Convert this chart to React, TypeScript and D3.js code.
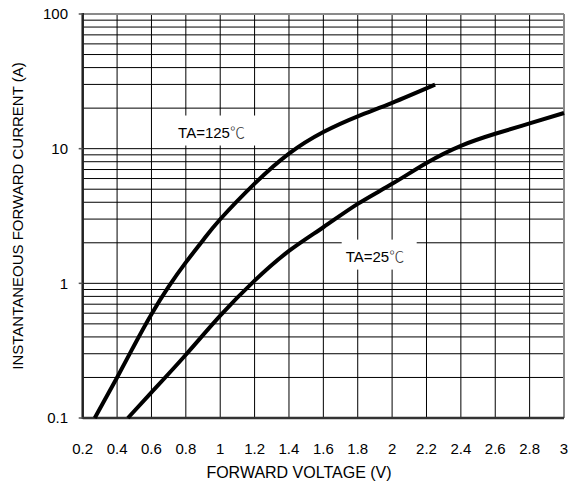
import * as d3 from "d3";

// forward characteristic
const voltage125 = [0.27, 0.4, 0.5, 0.6, 0.7, 0.8, 0.9, 1.0, 1.2, 1.4, 1.6, 1.8, 2.0, 2.25];
const current125 = [0.1, 0.2, 0.347, 0.59, 0.944, 1.43, 2.09, 2.99, 5.5, 9.2, 13.3, 17.4, 21.9, 29.9];

const voltage25 = [0.463, 0.6, 0.8, 1.0, 1.2, 1.4, 1.6, 1.8, 2.0, 2.2, 2.4, 2.6, 2.8, 3.0];
const current25 = [0.1, 0.155, 0.295, 0.575, 1.047, 1.74, 2.61, 3.89, 5.48, 7.83, 10.5, 12.9, 15.4, 18.4];

const xTicks = [0.2, 0.4, 0.6, 0.8, 1, 1.2, 1.4, 1.6, 1.8, 2, 2.2, 2.4, 2.6, 2.8, 3];
const yDecades = [0.1, 1, 10, 100];
const yTickLabels = ["0.1", "1", "10", "100"];

const labels = [
  { text: "TA=125", v: 0.755, i: 12.1 },
  { text: "TA=25", v: 1.73, i: 1.45 },
];

const W = 579;
const H = 485;
const FONT = "'Liberation Sans', Arial, sans-serif";

export default function App() {
  const x = d3.scaleLinear().domain([0.2, 3]).range([82.7, 564]);
  const y = d3.scaleLog().domain([0.1, 100]).range([418, 14]);

  const line = d3
    .line<[number, number]>()
    .x((d) => x(d[0]))
    .y((d) => y(d[1]))
    .curve(d3.curveNatural);

  const pts125 = voltage125.map((v, k) => [v, current125[k]] as [number, number]);
  const pts25 = voltage25.map((v, k) => [v, current25[k]] as [number, number]);

  const [x0, x1] = x.range();
  const [y0, y1] = y.range();

  return (
    <svg
      width={W}
      height={H}
      style={{ position: "absolute", left: 0, top: 0, background: "#fff" }}
      fontFamily={FONT}
    >
      {/* log grid */}
      <g stroke="#000" strokeWidth={1}>
        {y.ticks().map((t, k) => (
          <line key={"h" + k} x1={x0} x2={x1} y1={y(t)} y2={y(t)} />
        ))}
        {xTicks.map((t, k) => (
          <line key={"v" + k} x1={x(t)} x2={x(t)} y1={y0} y2={y1} />
        ))}
      </g>

      {/* label backgrounds knock out the grid */}
      {labels.map((l, k) => (
        <rect
          key={"bg" + k}
          x={x(l.v) - 4}
          y={y(l.i) - 22}
          width={l.text.length * 9 + 30}
          height={30}
          fill="#fff"
        />
      ))}

      {/* frame */}
      <line x1={x0} x2={x1} y1={y1} y2={y1} stroke="#8a8a8a" strokeWidth={2} />
      <line x1={x1} x2={x1} y1={y1} y2={y0} stroke="#8a8a8a" strokeWidth={2} />
      <line x1={x0} x2={x0} y1={y1 - 1} y2={y0 + 1} stroke="#222" strokeWidth={2.5} />
      <line x1={x0} x2={x1} y1={y0} y2={y0} stroke="#333" strokeWidth={2.5} />
      {yDecades.map((d, k) => (
        <line key={"tk" + k} x1={x0 - 4} x2={x0} y1={y(d)} y2={y(d)} stroke="#555" strokeWidth={1.5} />
      ))}

      {/* curves */}
      <path d={line(pts125) ?? ""} fill="none" stroke="#000" strokeWidth={4} />
      <path d={line(pts25) ?? ""} fill="none" stroke="#000" strokeWidth={4} />

      {labels.map((l, k) => (
        <text key={"lb" + k} x={x(l.v)} y={y(l.i)} fontSize={15} fill="#000">
          {l.text}
          <tspan fontFamily="'Noto Sans CJK SC', sans-serif" fontWeight={300} fill="#333">
            ℃
          </tspan>
        </text>
      ))}

      {/* y tick labels */}
      {yDecades.map((d, k) => (
        <text
          key={"yl" + k}
          x={68}
          y={y(d)}
          dy="0.36em"
          textAnchor="end"
          fontSize={15}
          fill="#000"
        >
          {yTickLabels[k]}
        </text>
      ))}

      {/* x tick labels */}
      {xTicks.map((t, k) => (
        <text key={"xl" + k} x={x(t)} y={454} textAnchor="middle" fontSize={15} fill="#000">
          {String(t)}
        </text>
      ))}

      <text x={299} y={478} textAnchor="middle" fontSize={16} fill="#000">
        FORWARD VOLTAGE (V)
      </text>
      <text
        transform={`translate(23,${(y0 + y1) / 2}) rotate(-90)`}
        textAnchor="middle"
        fontSize={15}
        fill="#000"
      >
        INSTANTANEOUS FORWARD CURRENT (A)
      </text>
    </svg>
  );
}
